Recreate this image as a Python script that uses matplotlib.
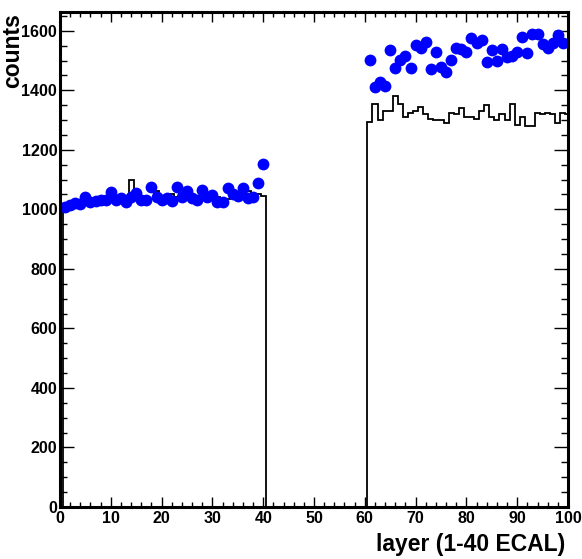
import numpy as np
import matplotlib
matplotlib.use("Agg")
import matplotlib.pyplot as plt
from matplotlib.ticker import MultipleLocator

# ---- data ----
layers_ecal = list(range(1, 41))
points_ecal = [1007, 1013, 1020, 1017, 1040, 1023, 1027, 1033, 1030, 1057,
               1030, 1037, 1023, 1040, 1054, 1030, 1033, 1074, 1040, 1030,
               1037, 1027, 1074, 1040, 1060, 1037, 1033, 1064, 1040, 1047,
               1023, 1023, 1071, 1050, 1044, 1071, 1037, 1040, 1087, 1151]
layers_hcal = list(range(61, 100))
points_hcal = [1501, 1410, 1427, 1413, 1534, 1474, 1501, 1514, 1474, 1551,
               1541, 1561, 1471, 1528, 1477, 1460, 1501, 1541, 1538, 1528,
               1575, 1558, 1568, 1494, 1534, 1497, 1538, 1511, 1514, 1528,
               1578, 1524, 1588, 1588, 1555, 1541, 1558, 1585, 1558]

hist_ecal = [1005, 1015, 1015, 1025, 1025, 1030, 1030, 1035, 1025, 1030,
             1040, 1040, 1035, 1100, 1040, 1040, 1035, 1035, 1060, 1045,
             1045, 1050, 1040, 1050, 1055, 1035, 1045, 1050, 1050, 1040,
             1040, 1035, 1035, 1060, 1050, 1035, 1060, 1050, 1050, 1045]
hist_gap = [0] * 20
hist_hcal = [1293, 1355, 1300, 1330, 1330, 1380, 1355, 1310, 1325, 1330,
             1345, 1320, 1305, 1300, 1300, 1290, 1325, 1320, 1340, 1310,
             1310, 1305, 1330, 1350, 1310, 1300, 1320, 1300, 1355, 1285,
             1310, 1280, 1280, 1325, 1320, 1325, 1320, 1290, 1325, 1320]

x_label = "layer (1-40 ECAL)"
y_label = "counts"

plt.rcParams['font.family'] = ['Liberation Sans', 'DejaVu Sans']
plt.rcParams['font.weight'] = 'bold'

W, H = 582, 559
fig = plt.figure(figsize=(W / 100, H / 100), dpi=100)
ax = fig.add_axes([60 / W, 1 - 507 / H, 508 / W, 495 / H])

hist_vals = np.array(hist_ecal + hist_gap + hist_hcal, dtype=float)
edges = np.arange(0.5, 101.5, 1.0)
ax.stairs(hist_vals, edges, baseline=0, color='black', linewidth=1.3)

ax.plot(layers_ecal, points_ecal, 'o', color='#0000ff', ms=8.5, mew=0, clip_on=True)
ax.plot(layers_hcal, points_hcal, 'o', color='#0000ff', ms=8.5, mew=0, clip_on=True)

ax.set_xlim(0, 100)
ax.set_ylim(0, 1663)

ax.xaxis.set_major_locator(MultipleLocator(10))
ax.xaxis.set_minor_locator(MultipleLocator(2))
ax.yaxis.set_major_locator(MultipleLocator(200))
ax.yaxis.set_minor_locator(MultipleLocator(50))

for sp in ax.spines.values():
    sp.set_linewidth(2.2)

ax.tick_params(axis='x', which='major', direction='in', length=7, width=1, top=True, bottom=True, pad=3, labelsize=11.5)
ax.tick_params(axis='x', which='minor', direction='in', length=3.6, width=1, top=True, bottom=True)
ax.tick_params(axis='y', which='major', direction='in', length=10, width=1, left=True, right=True, pad=2, labelsize=11.5)
ax.tick_params(axis='y', which='minor', direction='in', length=5, width=1, left=True, right=True)
for lab in ax.get_xticklabels() + ax.get_yticklabels():
    lab.set_fontweight('bold')

fig.text(565 / W, 1 - 545 / H, x_label, ha='right', va='center', fontsize=16.5, fontweight='bold')
fig.text(13 / W, 1 - 13 / H, y_label, rotation=90, ha='center', va='top', fontsize=16.5, fontweight='bold')

fig.savefig('out.png', dpi=100)
